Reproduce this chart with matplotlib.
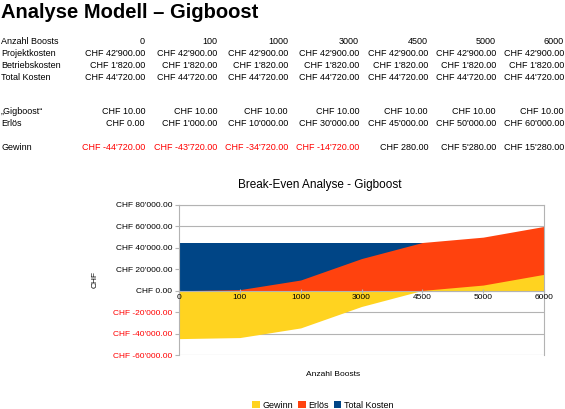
import matplotlib.pyplot as plt
import numpy as np

plt.rcParams['font.family'] = ['Liberation Sans', 'DejaVu Sans']

boosts = [0, 100, 1000, 3000, 4500, 5000, 6000]
projektkosten = [42900, 42900, 42900, 42900, 42900, 42900, 42900]
betriebskosten = [1820, 1820, 1820, 1820, 1820, 1820, 1820]
total_kosten = [44720, 44720, 44720, 44720, 44720, 44720, 44720]
preis = [10, 10, 10, 10, 10, 10, 10]
erloes = [0, 1000, 10000, 30000, 45000, 50000, 60000]
gewinn = [-44720, -43720, -34720, -14720, 280, 5280, 15280]
y_ticks = [-60000, -40000, -20000, 0, 20000, 40000, 60000, 80000]


def chf(v):
    s = f"{abs(v):,.2f}".replace(",", "'")
    return f"CHF {'-' if v < 0 else ''}{s}"


fig = plt.figure(figsize=(5.65, 4.09), dpi=100)
W, H = 565, 409

# ---- table part ----
fig.text(1 / W, 1 - 12 / H, "Analyse Modell \u2013 Gigboost", fontsize=14.5,
         fontweight="bold", va="center", ha="left")

col_right = [145, 217, 288, 359, 428, 496, 564]
rows = [
    ("Anzahl Boosts", 41, [str(b) for b in boosts], None),
    ("Projektkosten", 53, [chf(v) for v in projektkosten], None),
    ("Betriebskosten", 64, [chf(v) for v in betriebskosten], None),
    ("Total Kosten", 76, [chf(v) for v in total_kosten], None),
    ("\u201eGigboost\u201c", 111, [chf(v) for v in preis], None),
    ("Erl\u00f6s", 123, [chf(v) for v in erloes], None),
    ("Gewinn", 147, [chf(v) for v in gewinn], gewinn),
]
for label, y, cells, vals in rows:
    fig.text(1 / W, 1 - (y + 1) / H, label, fontsize=6.5, va="center", ha="left")
    for i, c in enumerate(cells):
        color = "#ff0000" if vals is not None and vals[i] < 0 else "black"
        fig.text(col_right[i] / W, 1 - (y + 1) / H, c, fontsize=6.5, va="center",
                 ha="right", color=color)

# ---- chart ----
ax = fig.add_axes([179 / W, 1 - 355 / H, (544 - 179) / W, (355 - 205) / H])
x = np.arange(len(boosts))
ax.fill_between(x, 0, total_kosten, color="#004586", lw=0, label="Total Kosten")
ax.fill_between(x, 0, erloes, color="#ff420e", lw=0, label="Erl\u00f6s")
ax.fill_between(x, 0, gewinn, color="#ffd320", lw=0, label="Gewinn")

ax.set_xlim(0, len(boosts) - 1)
ax.set_ylim(-60000, 80000)
ax.set_yticks(y_ticks)
ax.set_yticklabels([chf(v) for v in y_ticks])
for t, v in zip(ax.get_yticklabels(), y_ticks):
    if v < 0:
        t.set_color("#ff0000")
ax.set_xticks(x)
ax.set_xticklabels([str(b) for b in boosts])
ax.tick_params(axis="y", length=3, color="#b3b3b3", pad=2, labelsize=6)
ax.tick_params(axis="x", length=3, color="#b3b3b3", pad=1, direction="inout",
               labelsize=6)

ax.grid(axis="y", color="#b3b3b3", lw=0.8)
ax.set_axisbelow(True)
ax.xaxis.set_zorder(3)
for sp in ["top", "right", "left", "bottom"]:
    ax.spines[sp].set_color("#b3b3b3")
ax.spines["bottom"].set_position(("data", 0))
ax.spines["bottom"].set_zorder(3)

fig.text(320 / W, 1 - 185 / H, "Break-Even Analyse - Gigboost", fontsize=8.5,
         ha="center", va="center")
fig.text(95 / W, 1 - 280 / H, "CHF", fontsize=6, rotation=90, ha="center",
         va="center")
fig.text(333 / W, 1 - 374 / H, "Anzahl Boosts", fontsize=6, ha="center",
         va="center")

h, l = ax.get_legend_handles_labels()
fig.legend(h[::-1], l[::-1], loc="center", bbox_to_anchor=(323 / W, 1 - 405 / H),
           ncol=3, frameon=False, fontsize=6.5, handlelength=0.8,
           handleheight=0.8, handletextpad=0.3, columnspacing=0.6)

fig.savefig("out.png", dpi=100)
